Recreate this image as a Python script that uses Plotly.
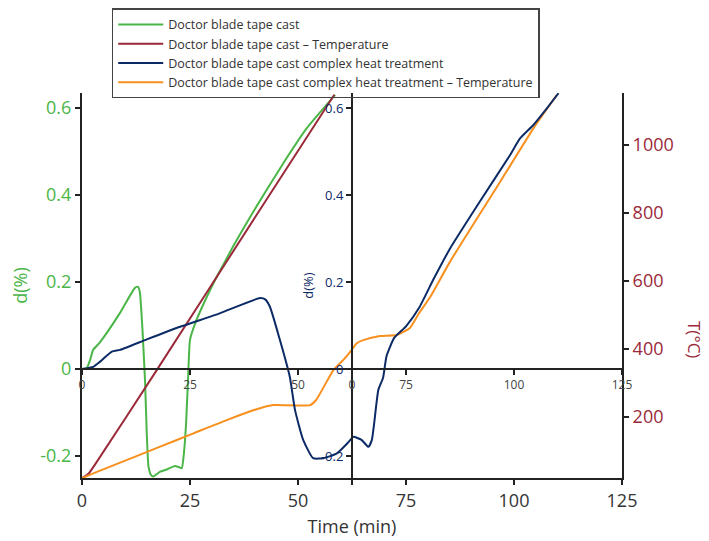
import plotly.graph_objects as go

# ---------------- data ----------------
green_t = [0, 1.1, 1.85, 2.6, 4.2, 8.8, 12.3, 13.0, 13.4, 14.0, 14.6, 15.0, 15.4, 16.0, 16.5,
           18.1, 19.6, 21.5, 22.5, 23.1, 23.6, 24.1, 24.6, 25.0, 26.2, 28.9, 31.2, 35.0,
           39.3, 46.6, 52.0, 58.6]
green_d = [0, 0.002, 0.02, 0.044, 0.062, 0.129, 0.187, 0.189, 0.176, 0.09, -0.03, -0.15,
           -0.225, -0.244, -0.247, -0.236, -0.231, -0.223, -0.226, -0.228, -0.193, -0.124,
           -0.01, 0.067, 0.105, 0.166, 0.212, 0.282, 0.356, 0.473, 0.553, 0.63]

red_t = [0, 1.5, 3, 17.3, 40.4, 58.4]
red_T = [20, 33, 60, 338, 794, 1148]

blue_t = [0, 2.6, 4.2, 6.9, 8.8, 15, 22.7, 31.9, 41.2, 42.4, 43.5, 45.8, 48.1, 49.3, 51.2,
          53.5, 55.9, 59.0, 61.5, 62.8, 64.7, 66.3, 67.1, 68.6, 69.7, 70.5, 72.3, 75.0,
          78.0, 81.3, 85.2, 92.1, 99.1, 101.4, 104.5, 107.6, 110.3]
blue_d = [0, 0.005, 0.017, 0.04, 0.044, 0.068, 0.097, 0.128, 0.163, 0.160, 0.143, 0.067,
          -0.018, -0.094, -0.163, -0.205, -0.205, -0.194, -0.17, -0.156, -0.163, -0.179,
          -0.163, -0.048, -0.02, 0.03, 0.072, 0.098, 0.14, 0.205, 0.277, 0.385, 0.492,
          0.530, 0.561, 0.599, 0.634]

orange_t = [0, 2.6, 10.3, 18.1, 25.8, 33.5, 41.2, 44.3, 52.8, 54.2, 58.2, 60.5, 62.4, 63.6,
            65.1, 69.0, 72.8, 75.9, 78.0, 80.6, 85.2, 96.8, 104.5, 109.9]
orange_T = [20, 34, 73, 113, 152, 191, 226, 235, 235, 250, 338, 368, 397, 417, 426, 438,
            441, 462, 505, 553, 657, 892, 1049, 1147]

names = ["Doctor blade tape cast",
         "Doctor blade tape cast \u2013 Temperature",
         "Doctor blade tape cast complex heat treatment",
         "Doctor blade tape cast complex heat treatment \u2013 Temperature"]

time_ticks = [0, 25, 50, 62.5, 75, 100, 125]
time_labels = ["0", "25", "50", "", "75", "100", "125"]
inner_time_labels = ["0", "25", "50", "0", "75", "100", "125"]
d_ticks = [-0.2, 0, 0.2, 0.4, 0.6]
d_labels = ["-0.2", "0", "0.2", "0.4", "0.6"]
T_ticks = [200, 400, 600, 800, 1000]
T_labels = ["200", "400", "600", "800", "1000"]

# ---------------- styling ----------------
GREEN = "#4bb648"
RED = "#9a2a3a"
NAVY = "#0c2a66"
ORANGE = "#f7901e"
AX = "#222222"
FONT = "Open Sans"

d_range = [-0.2506, 0.6345]
T_range = [20.6, 1153]
zero_frac = (0 - d_range[0]) / (d_range[1] - d_range[0])

fig = go.Figure()
fig.add_trace(go.Scatter(x=green_t, y=green_d, name=names[0], mode="lines",
                         line=dict(color=GREEN, width=2, shape="spline", smoothing=0.5),
                         yaxis="y"))
fig.add_trace(go.Scatter(x=red_t, y=red_T, name=names[1], mode="lines",
                         line=dict(color=RED, width=2, shape="spline", smoothing=0.5),
                         yaxis="y2"))
fig.add_trace(go.Scatter(x=blue_t, y=blue_d, name=names[2], mode="lines",
                         line=dict(color=NAVY, width=2, shape="spline", smoothing=0.5),
                         yaxis="y3"))
fig.add_trace(go.Scatter(x=orange_t, y=orange_T, name=names[3], mode="lines",
                         line=dict(color=ORANGE, width=2, shape="spline", smoothing=0.5),
                         yaxis="y2"))
# carrier for the inner time axis along d = 0
fig.add_trace(go.Scatter(x=[0], y=[0], xaxis="x2", yaxis="y", mode="lines",
                         showlegend=False, hoverinfo="skip", line=dict(width=0)))

common = dict(showline=True, linecolor=AX, linewidth=2, ticks="outside", ticklen=5,
              tickcolor=AX, tickwidth=2, showgrid=False, zeroline=False, automargin=False)

# the page body adds an 8px offset, so the figure is 8px smaller and margins shifted
fig.update_layout(
    width=701, height=533,
    margin=dict(l=74, r=87, t=85, b=63, autoexpand=False),
    paper_bgcolor="white", plot_bgcolor="white",
    font=dict(family=FONT, color="#333"),
    showlegend=True,
    legend=dict(x=0.055, xanchor="left", y=1.22, yanchor="top",
                bordercolor="#444", borderwidth=1.5, bgcolor="rgba(255,255,255,0)",
                font=dict(size=12.5, color="#333", family=FONT),
                itemwidth=45, tracegroupgap=0),
    xaxis=dict(range=[0, 125], tickvals=time_ticks, ticktext=time_labels,
               tickfont=dict(size=18, color="#333"),
               title=dict(text="Time (min)", font=dict(size=18, color="#333"), standoff=10),
               **common),
    xaxis2=dict(range=[0, 125], overlaying="x", anchor="free", position=zero_frac,
                side="bottom", tickvals=time_ticks, ticktext=inner_time_labels,
                tickfont=dict(size=12, color="#444"), **common),
    yaxis=dict(range=d_range, tickvals=d_ticks, ticktext=d_labels,
               tickfont=dict(size=18, color=GREEN),
               title=dict(text="d(%)", font=dict(size=18, color=GREEN), standoff=12),
               **common),
    yaxis2=dict(range=T_range, overlaying="y", side="right", anchor="x",
                tickvals=T_ticks, ticktext=T_labels,
                tickfont=dict(size=18, color=RED), **common),
    yaxis3=dict(range=d_range, overlaying="y", anchor="free", position=0.5, side="left",
                tickvals=d_ticks, ticktext=d_labels,
                tickfont=dict(size=13, color=NAVY),
                title=dict(text="d(%)", font=dict(size=13, color=NAVY), standoff=3),
                **common),
    annotations=[dict(text="T(\u00b0C)", xref="paper", yref="paper",
                      x=(695 - 82) / 540, y=(478 - 340) / 385, showarrow=False,
                      xanchor="center", yanchor="middle",
                      textangle=90, font=dict(size=17, color=RED, family=FONT))],
)

fig.write_html("out.html")
